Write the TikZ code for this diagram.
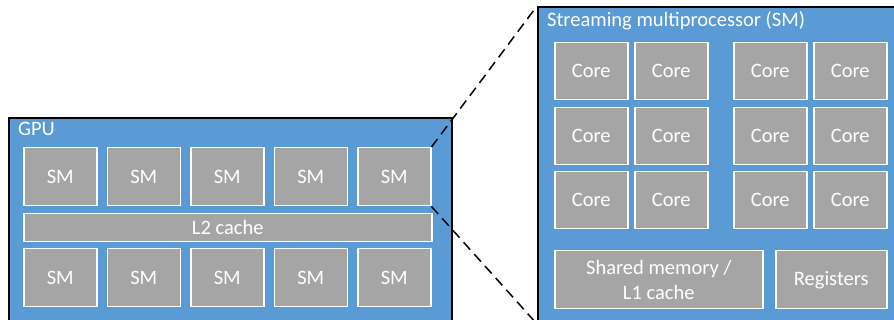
\documentclass[tikz,border=0pt]{standalone}
\usepackage{fontspec}
\setmainfont{Carlito}
\usepackage{tikz}
\definecolor{GpuBlue}{HTML}{5B9BD5}
\definecolor{UnitGray}{HTML}{A5A5A5}

\begin{document}
\begin{tikzpicture}[
    x=1pt, y=-1pt,
    frame/.style={rectangle, draw=black, line width=2pt, fill=GpuBlue,
                  anchor=north west, inner sep=0pt},
    unit/.style={rectangle, draw=white, line width=1.5pt, fill=UnitGray, text=white,
                 font=\fontsize{20.5}{25}\selectfont, anchor=north west, inner sep=0pt,
                 align=center},
    title/.style={text=white, font=\fontsize{20.5}{22}\selectfont, anchor=base west, inner sep=0pt},
    zoomline/.style={draw=black, line width=1.5pt, dash pattern=on 10pt off 6pt}
]
    \useasboundingbox (0,0) rectangle (894,320);
    \clip (0,0) rectangle (894,320);

    % GPU with its SMs and the L2 cache
    \node[frame, minimum width=443, minimum height=205] (gpu) at (8,117) {};
    \node[title] (gpulabel) at (18,136) {GPU};
    \foreach \i in {0,...,4} {
        \node[unit, minimum width=73, minimum height=58] (smt\i) at ({23+83.5*\i},147) {SM};
        \node[unit, minimum width=73, minimum height=58] (smb\i) at ({23+83.5*\i},248) {SM};
    }
    \node[unit, minimum width=408, minimum height=28] (l2) at (23,213) {L2 cache};

    % Streaming multiprocessor, zoomed in
    \node[frame, minimum width=363, minimum height=316] (sm) at (537,6) {};
    \node[title] (smlabel) at (547,27) {Streaming multiprocessor (SM)};
    \foreach \cx [count=\c] in {554,634,733,813} {
        \foreach \cy [count=\r] in {42,107,171} {
            \node[unit, minimum width=73, minimum height=57] (core\r\c) at (\cx,\cy) {Core};
        }
    }
    \node[unit, minimum width=208, minimum height=58] (shared) at (554,250) {Shared memory /\\L1 cache};
    \node[unit, minimum width=111, minimum height=58] (regs) at (775,250) {Registers};

    % Zoom lines
    \draw[zoomline] (smt4.north east) -- (sm.north west);
    \draw[zoomline] (smt4.south east) -- (sm.south west);
\end{tikzpicture}
\end{document}
